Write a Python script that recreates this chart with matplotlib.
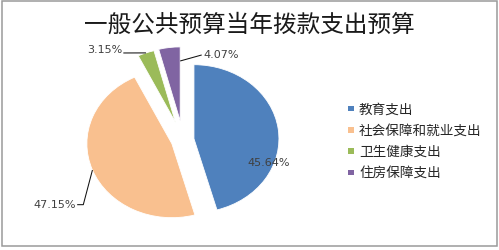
import matplotlib
matplotlib.use("Agg")
import matplotlib.pyplot as plt
from matplotlib.patches import Rectangle
import numpy as np

# Budget breakdown
categories = ["教育支出", "社会保障和就业支出", "卫生健康支出", "住房保障支出"]
shares = [45.64, 47.15, 3.15, 4.07]
title = "一般公共预算当年拨款支出预算"

# Styling
colors = ["#4F81BD", "#F9C08F", "#9BBB59", "#8064A2"]
explode = [0.13, 0.14, 0.255, 0.26]
START = 90

plt.rcParams["font.family"] = ["Noto Sans CJK SC", "DejaVu Sans"]

W, H = 499, 251
fig = plt.figure(figsize=(W / 100, H / 100), dpi=100)

# Pie placement in pixels (origin bottom-left); slightly wider than tall
cx, cy = 183, 110
rx, ry = 85, 74
xh, yh = 1.5, 1.45
ax = fig.add_axes([(cx - xh * rx) / W, (cy - yh * ry) / H,
                   2 * xh * rx / W, 2 * yh * ry / H])
wedges, _ = ax.pie(shares, colors=colors, explode=explode, startangle=START,
                   counterclock=False,
                   wedgeprops=dict(edgecolor="white", linewidth=0.6))
ax.set_aspect("auto")
ax.set_xlim(-xh, xh)
ax.set_ylim(-yh, yh)
ax.axis("off")


def edge_point(w, ang_deg, frac=1.0):
    a = np.deg2rad(ang_deg)
    return (w.center[0] + frac * w.r * np.cos(a), w.center[1] + frac * w.r * np.sin(a))


def mid_angle(w):
    return 0.5 * (w.theta1 + w.theta2)


label_pos = [(1.012, -0.297), (-1.26, -0.862), (-0.718, 1.223), (0.235, 1.162)]
label_ha = ["center", "right", "right", "left"]

# leader paths: anchor on the wedge, then the bend points toward the label
anchors = [None,
           edge_point(wedges[1], mid_angle(wedges[1])),
           edge_point(wedges[2], mid_angle(wedges[2])),
           edge_point(wedges[3], START, 0.81)]
bends = [[],
         [(-1.173, -0.874), (-1.245, -0.874)],
         [(-0.702, 1.176)],
         [(0.22, 1.149)]]

for i, v in enumerate(shares):
    x, y = label_pos[i]
    ax.text(x, y, f"{v:.2f}%", ha=label_ha[i], va="center", fontsize=8,
            color="#404040", family="DejaVu Sans")
    if anchors[i] is not None:
        pts = [anchors[i]] + bends[i]
        ax.plot([p[0] for p in pts], [p[1] for p in pts], color="#111111",
                lw=0.75, solid_capstyle="butt", clip_on=False)

# Title
fig.text(0.5, (H - 25.5) / H, title, ha="center", va="center", fontsize=17,
         color="#1a1a1a")

# Legend
sq = 5.5
row0, pitch = 109.5, 21.3
for i, name in enumerate(categories):
    yc = H - (row0 + i * pitch)
    fig.add_artist(Rectangle((348 / W, (yc - sq / 2) / H), sq / W, sq / H,
                             transform=fig.transFigure, facecolor=colors[i],
                             edgecolor="none"))
    fig.text(359 / W, yc / H, name, ha="left", va="center", fontsize=9.8,
             color="#262626")

# Chart frame
fig.add_artist(Rectangle((1.7 / W, 3.7 / H), (497.3 - 1.7) / W, (249.3 - 3.7) / H,
                         transform=fig.transFigure, facecolor="none",
                         edgecolor="#9A9A9A", lw=1.1))

fig.savefig("out.png", dpi=100)
